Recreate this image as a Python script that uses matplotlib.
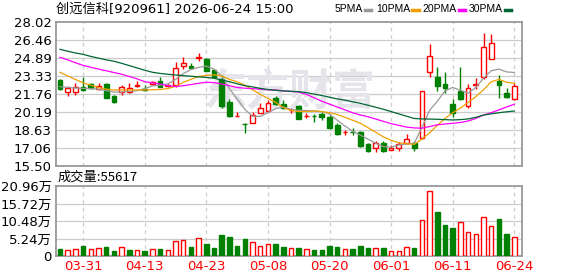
import numpy as np
import matplotlib.pyplot as plt
from matplotlib.lines import Line2D

plt.rcParams['font.family'] = ['DejaVu Sans', 'Noto Sans CJK SC']

# daily candles, 60 sessions 03-26 .. 06-24
opens = [22.95, 21.88, 21.88, 22.32, 22.58, 22.20, 22.58, 21.56, 21.93, 21.93,
         22.40, 22.20, 22.64, 22.87, 22.43, 22.51, 24.17, 24.20, 24.90, 24.75,
         23.82, 23.01, 21.06, 19.80, 19.15, 19.24, 20.05, 20.28, 21.41, 20.84,
         20.30, 20.69, 19.80, 19.85, 19.99, 19.76, 19.04, 18.38, 18.42, 18.40,
         17.39, 17.06, 17.50, 16.86, 17.06, 17.44, 17.44, 17.88, 23.62, 23.18,
         22.60, 20.84, 22.00, 20.69, 22.53, 23.24, 24.75, 22.86, 21.85, 21.30]
closes = [22.14, 22.23, 22.32, 22.08, 22.25, 22.46, 21.41, 21.06, 22.32, 22.23,
          22.50, 22.12, 22.78, 22.32, 22.50, 23.97, 24.45, 24.00, 24.95, 23.76,
          23.24, 20.69, 19.82, 19.84, 19.10, 19.90, 20.49, 20.92, 20.84, 20.49,
          20.34, 19.59, 19.85, 19.80, 19.76, 18.75, 18.25, 18.42, 18.38, 17.21,
          16.80, 17.50, 16.80, 17.06, 17.36, 17.82, 17.01, 22.00, 25.04, 22.46,
          22.28, 20.11, 21.30, 22.28, 22.62, 25.80, 26.14, 22.49, 21.45, 22.43]
highs = [23.04, 22.43, 22.66, 23.18, 22.66, 22.66, 22.66, 21.60, 22.55, 22.66,
         22.86, 22.50, 22.86, 23.24, 22.58, 24.54, 24.98, 24.45, 25.27, 24.85,
         23.90, 23.38, 21.30, 20.19, 19.24, 20.19, 20.92, 21.21, 21.57, 21.21,
         20.49, 20.78, 20.05, 20.00, 20.19, 19.90, 19.20, 18.60, 18.75, 18.50,
         17.50, 17.65, 17.65, 17.30, 17.59, 18.23, 17.67, 22.00, 26.08, 24.11,
         23.67, 21.30, 24.11, 22.58, 23.10, 27.06, 26.95, 23.38, 22.23, 22.72]
lows = [22.08, 21.59, 21.65, 22.02, 22.14, 22.08, 21.35, 20.98, 21.60, 21.80,
        22.30, 21.95, 22.49, 22.30, 22.30, 22.32, 23.88, 23.88, 24.60, 23.76,
        23.18, 20.49, 19.70, 19.80, 18.31, 19.24, 20.05, 20.28, 20.80, 20.40,
        20.10, 19.55, 19.62, 19.27, 19.47, 18.70, 18.15, 18.17, 18.17, 17.15,
        16.66, 16.72, 16.66, 16.86, 16.80, 17.40, 16.80, 17.79, 23.18, 22.02,
        21.85, 19.76, 21.25, 20.49, 22.14, 23.01, 24.75, 21.41, 21.41, 21.21]

ma5 = [22.37, 22.30, 22.25, 22.22, 22.20, 22.15, 22.02, 21.90, 21.90, 21.95,
       22.02, 22.20, 22.43, 22.50, 22.60, 23.00, 23.50, 23.85, 24.05, 24.15,
       23.90, 23.30, 22.20, 21.30, 20.40, 19.80, 19.78, 20.10, 20.45, 20.60,
       20.40, 20.30, 20.30, 20.25, 20.20, 20.00, 19.45, 18.95, 18.50, 18.15,
       17.80, 17.45, 17.15, 17.10, 17.30, 17.38, 17.45, 18.80, 20.30, 21.10,
       22.00, 22.30, 22.05, 21.80, 22.30, 23.10, 23.75, 23.90, 23.65, 23.60]
ma10 = [23.62, 23.30, 23.00, 22.70, 22.50, 22.30, 22.15, 22.08, 22.08, 22.08,
        22.08, 22.08, 22.10, 22.12, 22.20, 22.40, 22.75, 23.00, 23.25, 23.35,
        23.40, 23.30, 23.00, 22.80, 22.50, 22.10, 21.70, 21.35, 21.00, 20.55,
        20.30, 20.20, 20.20, 20.25, 20.20, 20.10, 19.95, 19.70, 19.45, 19.18,
        18.80, 18.40, 18.00, 17.70, 17.50, 17.40, 17.35, 17.80, 18.35, 19.00,
        19.60, 20.10, 20.50, 21.00, 21.50, 22.10, 22.80, 23.00, 22.75, 22.66]
ma20 = [24.92, 24.70, 24.45, 24.22, 24.05, 23.90, 23.75, 23.60, 23.45, 23.25,
        23.05, 22.80, 22.70, 22.60, 22.45, 22.38, 22.45, 22.55, 22.66, 22.75,
        22.72, 22.60, 22.45, 22.30, 22.23, 22.20, 22.15, 22.10, 22.08, 22.00,
        21.95, 21.90, 21.70, 21.40, 21.10, 20.85, 20.60, 20.35, 20.10, 19.90,
        19.75, 19.55, 19.35, 19.15, 19.00, 18.85, 18.78, 18.75, 18.90, 19.05,
        19.12, 19.18, 19.25, 19.38, 19.60, 19.90, 20.10, 20.35, 20.60, 20.84]
ma30 = [25.62, 25.45, 25.30, 25.18, 25.00, 24.85, 24.70, 24.58, 24.40, 24.20,
        24.00, 23.80, 23.62, 23.52, 23.45, 23.38, 23.33, 23.27, 23.22, 23.17,
        23.10, 22.95, 22.80, 22.62, 22.45, 22.35, 22.22, 22.12, 22.05, 22.00,
        21.97, 21.93, 21.85, 21.72, 21.60, 21.45, 21.30, 21.20, 21.05, 20.92,
        20.75, 20.58, 20.40, 20.20, 20.00, 19.80, 19.60, 19.56, 19.55, 19.53,
        19.50, 19.47, 19.50, 19.56, 19.70, 19.90, 20.00, 20.10, 20.18, 20.25]

# volume in 万 shares, and whether its bar is drawn red
volume = [2.1, 1.7, 2.0, 3.0, 2.0, 2.3, 2.7, 1.5, 2.6, 1.8,
          1.7, 1.5, 2.0, 2.1, 1.7, 4.4, 4.7, 2.7, 5.3, 3.6,
          2.4, 6.3, 5.7, 3.0, 5.1, 4.2, 2.9, 3.5, 3.6, 2.7,
          2.3, 2.4, 2.0, 1.8, 1.8, 3.0, 2.7, 2.0, 2.1, 3.0,
          2.4, 2.3, 2.4, 1.4, 1.4, 2.6, 2.4, 10.7, 19.4, 13.2,
          9.3, 8.4, 10.1, 7.1, 6.5, 11.6, 8.9, 11.1, 6.6, 5.56]
vol_up = [0, 1, 1, 0, 1, 1, 0, 0, 1, 0, 1, 0, 1, 0, 1, 1, 1, 0, 1, 0,
          0, 0, 0, 0, 0, 1, 1, 1, 0, 0, 1, 0, 1, 0, 0, 0, 0, 1, 0, 0,
          0, 1, 0, 1, 1, 1, 0, 1, 1, 0, 0, 0, 1, 1, 1, 1, 1, 0, 0, 1]

tick_pos = [3, 11, 19, 27, 35, 43, 51, 59]
tick_labels = ['03-31', '04-13', '04-23', '05-08', '05-20', '06-01', '06-11', '06-24']
price_ticks = [15.50, 17.06, 18.63, 20.19, 21.76, 23.33, 24.89, 26.46, 28.02]
vol_ticks = [0, 5.24, 10.48, 15.72, 20.96]

RED = '#ff0000'
GREEN = '#008000'
GRID = '#cccccc'
BORDER = '#999999'

fig = plt.figure(figsize=(5.78, 2.76), dpi=100)
ax = fig.add_axes([56/578, 1-165.6/276, 466/578, 143.9/276])
axv = fig.add_axes([56/578, 1-256/276, 466/578, 70/276])

x = np.arange(len(opens))
o = np.array(opens); c = np.array(closes)
up = c >= o

for a in (ax, axv):
    a.set_xlim(-0.52, 60.0)
    for s in a.spines.values():
        s.set_color(BORDER)
        s.set_linewidth(1.3)
    a.tick_params(length=0, labelsize=9.5, pad=3)
    for p in tick_pos:
        a.axvline(p, color=GRID, ls=(0, (3, 3)), lw=0.9, zorder=0)

# price panel
ax.set_ylim(15.50, 28.02)
ax.set_yticks(price_ticks)
ax.set_yticklabels(['%.2f' % v for v in price_ticks])
ax.set_xticks([])
for v in price_ticks[1:-1]:
    ax.axhline(v, color=GRID, lw=0.9, zorder=0)

ax.text(0.5, 0.51, '东方财富', transform=ax.transAxes, fontsize=31,
        color='#e4e4ea', ha='center', va='center', family='Noto Sans CJK SC',
        fontweight='bold', zorder=0.5)

cols = np.where(up, RED, GREEN)
ax.vlines(x, lows, highs, colors=cols, lw=1, zorder=2)
body_h = np.maximum(np.abs(c - o), 0.02)
ax.bar(x, body_h, bottom=np.minimum(o, c), width=0.62,
       color=np.where(up, 'white', GREEN), edgecolor=cols, lw=1, zorder=3)

ax.plot(x, ma5, color='#999999', lw=0.9, zorder=4)
ax.plot(x, ma10, color='#f0a000', lw=0.9, zorder=4)
ax.plot(x, ma20, color='#ff00ff', lw=0.9, zorder=4)
ax.plot(x, ma30, color='#006633', lw=0.9, zorder=4)

# volume panel
axv.set_ylim(0, 20.96)
axv.set_yticks(vol_ticks)
axv.set_yticklabels(['0'] + ['%.2f万' % v for v in vol_ticks[1:]])
for v in vol_ticks[1:-1]:
    axv.axhline(v, color=GRID, lw=0.9, zorder=0)
vu = np.array(vol_up, dtype=bool)
axv.bar(x, volume, width=0.58, color=np.where(vu, 'white', GREEN),
        edgecolor=np.where(vu, RED, GREEN), lw=1, zorder=3)
axv.set_xticks(tick_pos)
axv.set_xticklabels(tick_labels, color=RED)

# header texts
fig.text(56/578, 1-9/276, '创远信科[920961] 2026-06-24 15:00', fontsize=9.5,
         va='center', ha='left', family=['DejaVu Sans', 'Noto Sans CJK SC'])
fig.text(58/578, 1-177/276, '成交量:55617', fontsize=9.5, va='center', ha='left',
         family=['Noto Sans CJK SC', 'DejaVu Sans'])

# legend: name right-aligned just before its colour dash
legend = [('5PMA', 364.7, '#999999'), ('10PMA', 412, '#f0a000'),
          ('20PMA', 458.7, '#ff00ff'), ('30PMA', 504.7, '#006633')]
for name, lx, col in legend:
    fig.text((lx-2)/578, 1-9/276, name, fontsize=7.5, va='center', ha='right',
             family='Liberation Sans')
    fig.add_artist(Line2D([lx/578, (lx+6.5)/578], [1-10/276, 1-10/276],
                          color=col, lw=2.5, transform=fig.transFigure))

fig.savefig('out.png', dpi=100)
